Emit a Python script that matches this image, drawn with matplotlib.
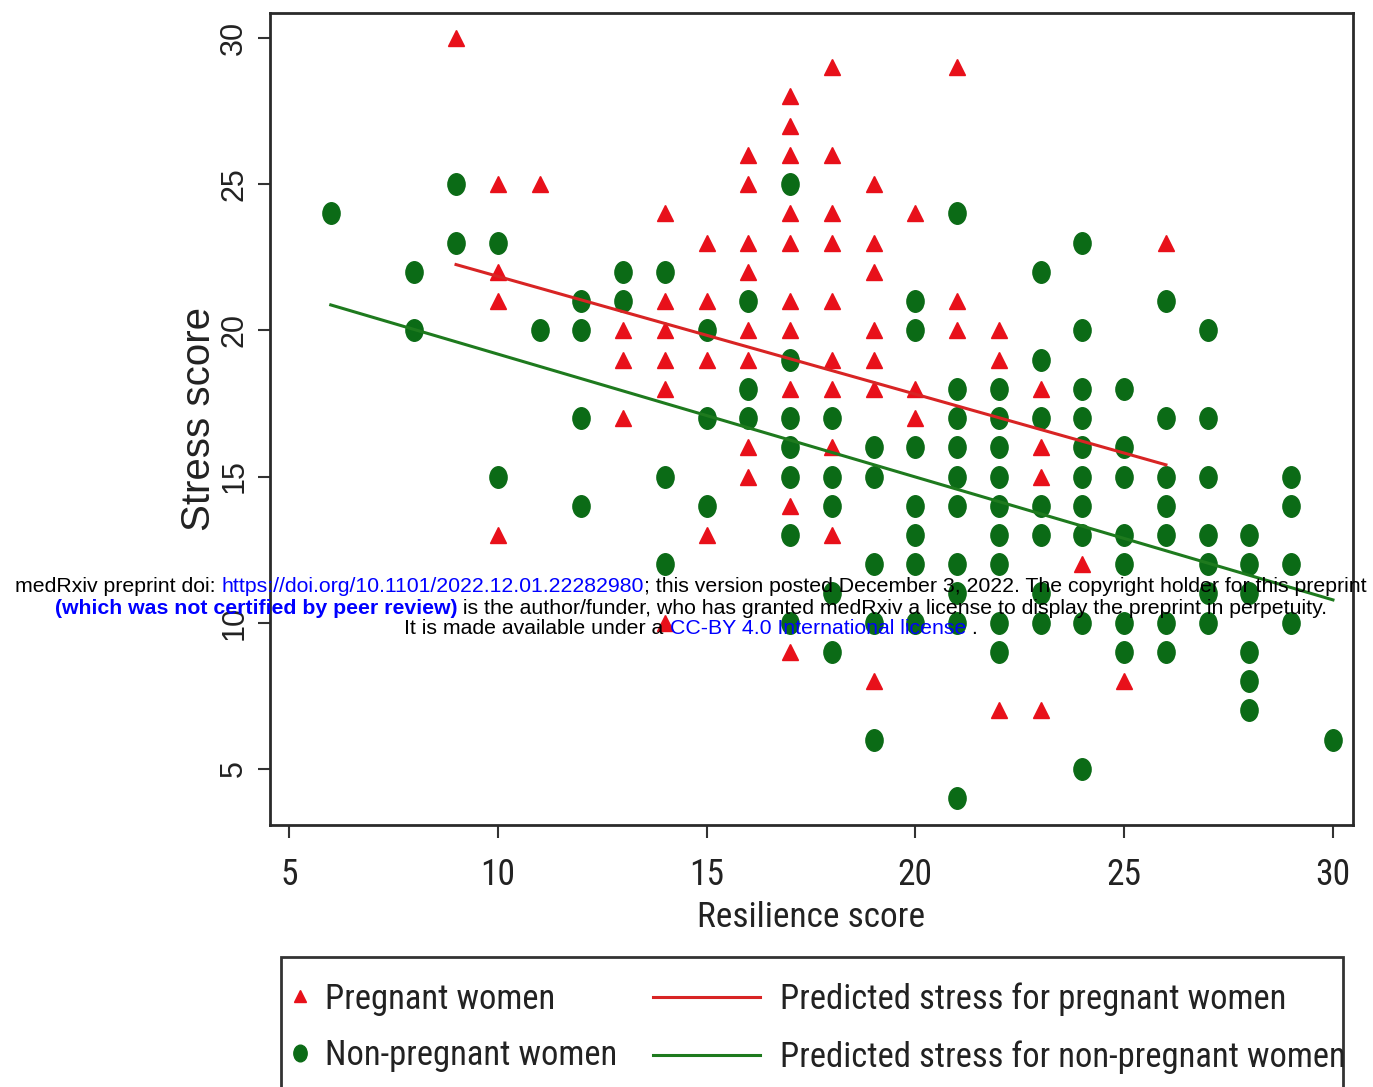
import matplotlib
matplotlib.use("Agg")
import matplotlib.pyplot as plt
from matplotlib.lines import Line2D
from matplotlib.patches import Rectangle
from matplotlib.path import Path
from matplotlib.font_manager import FontProperties

# ---------------- data ----------------
preg_x_cols = [9, 10, 11, 13, 14, 15, 16, 17, 18, 19, 20, 21, 22, 23, 24, 25, 26]
preg_y_cols = [
    [30],
    [25, 22, 21, 13],
    [25],
    [20, 19, 17],
    [24, 21, 20, 19, 18, 10],
    [23, 21, 19, 13],
    [26, 25, 23, 22, 20, 19, 16, 15],
    [28, 27, 26, 24, 23, 21, 20, 18, 14, 9],
    [29, 26, 24, 23, 21, 19, 18, 16, 13],
    [25, 23, 22, 20, 19, 18, 8],
    [24, 18, 17],
    [29, 21, 20],
    [20, 19, 7],
    [18, 16, 15, 7],
    [12],
    [8],
    [23],
]
nonpreg_x_cols = [6, 8, 9, 10, 11, 12, 13, 14, 15, 16, 17, 18, 19, 20, 21, 22, 23,
                  24, 25, 26, 27, 28, 29, 30]
nonpreg_y_cols = [
    [24],
    [22, 20],
    [25, 23],
    [23, 15],
    [20],
    [21, 20, 17, 14],
    [22, 21],
    [22, 15, 12],
    [20, 17, 14],
    [21, 18, 17],
    [25, 19, 17, 16, 15, 13, 10],
    [17, 15, 14, 11, 9],
    [16, 15, 12, 10, 6],
    [21, 20, 16, 14, 13, 12, 10],
    [24, 18, 17, 16, 15, 14, 12, 11, 10, 4],
    [18, 17, 16, 15, 14, 13, 12, 10, 9],
    [22, 19, 17, 14, 13, 11, 10],
    [23, 20, 18, 17, 16, 15, 14, 13, 10, 5],
    [18, 16, 15, 13, 12, 10, 9],
    [21, 17, 15, 14, 13, 10, 9],
    [20, 17, 15, 13, 12, 11, 10],
    [13, 12, 11, 9, 8, 7],
    [15, 14, 12, 10],
    [6],
]
pred_preg_x = [9, 26]
pred_preg_y = [22.25, 15.4]
pred_nonpreg_x = [6, 30]
pred_nonpreg_y = [20.87, 10.78]

x_ticks = [5, 10, 15, 20, 25, 30]
y_ticks = [5, 10, 15, 20, 25, 30]
x_label = "Resilience score"
y_label = "Stress score"
legend_labels = ["Pregnant women", "Non-pregnant women",
                 "Predicted stress for pregnant women",
                 "Predicted stress for non-pregnant women"]

preg_x = [x for x, ys in zip(preg_x_cols, preg_y_cols) for _ in ys]
preg_y = [y for ys in preg_y_cols for y in ys]
nonpreg_x = [x for x, ys in zip(nonpreg_x_cols, nonpreg_y_cols) for _ in ys]
nonpreg_y = [y for ys in nonpreg_y_cols for y in ys]

# ---------------- styling ----------------
W, H = 1373, 1087
RED = "#E8101A"
GREEN = "#0B6B16"
RED_LINE = "#D82424"
GREEN_LINE = "#1E7A1E"
COND = ["Roboto Condensed", "Liberation Sans Narrow", "DejaVu Sans"]
SANS = ["Liberation Sans", "DejaVu Sans"]
TXT = "#222222"

circ = Path.unit_circle()
ellipse = Path(circ.vertices * [0.8, 1.0], circ.codes)

fig = plt.figure(figsize=(W / 100, H / 100), dpi=100)
fig.patch.set_facecolor("white")
renderer = fig.canvas.get_renderer()


def cond_fp(size):
    return FontProperties(family=COND, stretch="condensed", size=size)


def width_px(s, fp):
    t = fig.text(0, 0, s, fontproperties=fp)
    w = t.get_window_extent(renderer).width
    t.remove()
    return w


def height_px(s, fp):
    t = fig.text(0, 0, s, fontproperties=fp)
    h = t.get_window_extent(renderer).height
    t.remove()
    return h


def fit(s, target, base=20):
    return base * target / width_px(s, cond_fp(base))


tick_size = fit("10", 35)
xlab_size = fit(x_label, 228)
leg_size = 0.5 * (fit(legend_labels[0], 232) + fit(legend_labels[2], 500))

ax = fig.add_axes([270 / W, 1 - 825 / H, (1353 - 270) / W, (825 - 13) / H])

ax.plot(nonpreg_x, nonpreg_y, linestyle="none", marker=ellipse, ms=15.5,
        color=GREEN, mec=GREEN, zorder=2)
ax.plot(preg_x, preg_y, linestyle="none", marker="^", ms=11.5,
        color=RED, mec=RED, zorder=2)
ax.plot(pred_preg_x, pred_preg_y, color=RED_LINE, lw=2.2, zorder=3)
ax.plot(pred_nonpreg_x, pred_nonpreg_y, color=GREEN_LINE, lw=2.2, zorder=3)

ax.set_xlim(4.545, 30.48)
ax.set_ylim(3.08, 30.855)
ax.set_xticks(x_ticks)
ax.set_yticks(y_ticks)
for s in ax.spines.values():
    s.set_linewidth(2.0)
    s.set_color("#2a2a2a")
ax.tick_params(direction="out", length=9, width=1.5, color="#333333")
ax.tick_params(axis="x", pad=14)
ax.tick_params(axis="y", pad=6)
for lab in ax.get_xticklabels():
    lab.set_fontproperties(cond_fp(tick_size))
    lab.set_color(TXT)
for lab in ax.get_yticklabels():
    lab.set_fontfamily(SANS)
    lab.set_fontsize(22)
    lab.set_rotation(90)
    lab.set_va("center")
    lab.set_color(TXT)
ax.set_xlabel(x_label, fontproperties=cond_fp(xlab_size), color=TXT, labelpad=6)
ax.set_ylabel(y_label, fontfamily=SANS, fontsize=29, color=TXT, labelpad=1)

# ---------------- legend ----------------
lp = cond_fp(leg_size)
fs_px = leg_size * 100 / 72
h_txt = height_px(legend_labels[0], lp)
pitch = 57
lspace = (pitch - h_txt) / fs_px
top_px = 999 - h_txt / 2
h1 = [Line2D([], [], linestyle="none", marker="^", ms=8, color=RED),
      Line2D([], [], linestyle="none", marker=ellipse, ms=12, color=GREEN)]
h2 = [Line2D([], [], color=RED_LINE, lw=2.2),
      Line2D([], [], color=GREEN_LINE, lw=2.2)]
leg1 = fig.legend(h1, legend_labels[:2], loc="upper left",
                  bbox_to_anchor=(285 / W, 1 - top_px / H), frameon=False,
                  prop=lp, handlelength=30 / fs_px, handletextpad=10 / fs_px,
                  labelspacing=lspace, borderpad=0, borderaxespad=0)
leg2 = fig.legend(h2, legend_labels[2:], loc="upper left",
                  bbox_to_anchor=(653 / W, 1 - top_px / H), frameon=False,
                  prop=lp, handlelength=107 / fs_px, handletextpad=20 / fs_px,
                  labelspacing=lspace, borderpad=0, borderaxespad=0)
for leg in (leg1, leg2):
    for t in leg.get_texts():
        t.set_color(TXT)
fig.add_artist(Rectangle((281 / W, -0.05), (1343 - 281) / W, (1 - 957 / H) + 0.05,
                         transform=fig.transFigure, fill=False, lw=2.0,
                         ec="#333333", clip_on=False))

# ---------------- medRxiv watermark ----------------
BLUE = "#0000FF"
lines = [
    [("medRxiv preprint doi: ", "black", "normal"),
     ("https://doi.org/10.1101/2022.12.01.22282980", BLUE, "normal"),
     ("; this version posted December 3, 2022. The copyright holder for this preprint", "black", "normal")],
    [("(which was not certified by peer review)", BLUE, "bold"),
     (" is the author/funder, who has granted medRxiv a license to display the preprint in perpetuity.", "black", "normal")],
    [("It is made available under a ", "black", "normal"),
     ("CC-BY 4.0 International license", BLUE, "normal"),
     (" .", "black", "normal")],
]
line_y = [587, 608, 629]


def piece_widths(pieces, size):
    out = []
    for txt, col, wt in pieces:
        fp = FontProperties(family=SANS, size=size, weight=wt)
        out.append(width_px(txt, fp))
    return out


base = 14
wm_size = base * 1358 / sum(piece_widths(lines[0], base))
for pieces, cy in zip(lines, line_y):
    widths = piece_widths(pieces, wm_size)
    x = 691 - sum(widths) / 2
    for (txt, col, wt), w in zip(pieces, widths):
        fig.text(x / W, 1 - cy / H, txt, fontsize=wm_size, fontfamily=SANS,
                 fontweight=wt, color=col, ha="left", va="center", zorder=10)
        x += w

fig.savefig("out.png", dpi=100, facecolor="white")
